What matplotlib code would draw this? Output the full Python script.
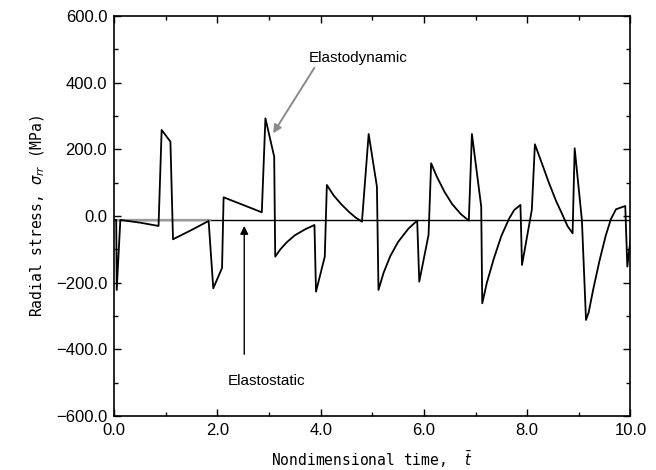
import matplotlib
matplotlib.use("Agg")
import matplotlib.pyplot as plt
from matplotlib.ticker import MultipleLocator, FuncFormatter

# elastodynamic radial stress (MPa) vs nondimensional time
t_dyn = [0.0, 0.04, 0.05, 0.12, 0.50, 0.86, 0.92, 1.09, 1.14, 1.50, 1.83,
         1.92, 2.09, 2.12, 2.50, 2.86, 2.93, 3.10, 3.12, 3.22, 3.35, 3.50,
         3.70, 3.88, 3.91, 4.08, 4.12, 4.25, 4.40, 4.55, 4.68, 4.80, 4.93,
         5.09, 5.12, 5.22, 5.35, 5.50, 5.70, 5.87, 5.91, 6.09, 6.14, 6.25,
         6.40, 6.55, 6.72, 6.87, 6.93, 7.11, 7.13, 7.22, 7.35, 7.50, 7.65,
         7.75, 7.87, 7.90, 8.09, 8.15, 8.28, 8.42, 8.56, 8.68, 8.78, 8.88,
         8.92, 9.06, 9.14, 9.19, 9.28, 9.40, 9.52, 9.62, 9.72, 9.90, 9.94,
         10.0]
s_dyn = [-12, -12, -222, -12, -20, -30, 258, 223, -70, -42, -15,
         -217, -156, 56, 33, 11, 293, 178, -122, -100, -78, -58,
         -40, -27, -227, -122, 93, 62, 35, 12, -5, -17, 246,
         88, -222, -170, -120, -78, -38, -14, -197, -57, 158, 118,
         72, 35, 5, -14, 246, 28, -262, -200, -130, -60, -8,
         18, 33, -147, 18, 215, 160, 100, 45, 5, -30, -52,
         203, -12, -312, -290, -220, -135, -60, -10, 20, 30, -152,
         -72]

# elastostatic solution (constant)
t_sta = [0.0, 10.0]
s_sta = [-12, -12]


def fmt(v, _pos):
    return f"{v:.1f}".replace("-", "\u2212")


fig = plt.figure(figsize=(6.56, 4.70), dpi=100)
ax = fig.add_axes([0.174, 0.115, 0.787, 0.851])

ax.plot(t_sta, s_sta, color="black", linewidth=1.0)
ax.plot([0.0, 1.85], [-12, -12], color="#9a9a9a", linewidth=1.6)
ax.plot(t_dyn, s_dyn, color="black", linewidth=1.3)

ax.set_xlim(0, 10)
ax.set_ylim(-600, 600)
ax.xaxis.set_major_locator(MultipleLocator(2))
ax.xaxis.set_minor_locator(MultipleLocator(1))
ax.yaxis.set_major_locator(MultipleLocator(200))
ax.yaxis.set_minor_locator(MultipleLocator(100))
ax.xaxis.set_major_formatter(FuncFormatter(fmt))
ax.yaxis.set_major_formatter(FuncFormatter(fmt))
ax.tick_params(which="both", direction="in", top=True, right=True,
               labelsize=12, width=1.0)
ax.tick_params(which="major", length=5, pad=5)
ax.tick_params(which="minor", length=3)
for lab in ax.get_xticklabels() + ax.get_yticklabels():
    lab.set_family("Liberation Sans")
for sp in ax.spines.values():
    sp.set_linewidth(1.2)

ax.set_xlabel(r"Nondimensional time,  $\bar{t}$", family="DejaVu Sans Mono",
              fontsize=10.5, labelpad=8)
ax.set_ylabel(r"Radial stress, $\sigma_{rr}$ (MPa)", family="DejaVu Sans Mono",
              fontsize=10.5, labelpad=6)

ax.annotate("Elastodynamic", xy=(3.08, 248), xytext=(3.76, 474),
            fontsize=11, family="Liberation Sans", va="center", ha="left",
            arrowprops=dict(arrowstyle="-|>", color="#8a8a8a", lw=1.4,
                            shrinkA=0, shrinkB=0, mutation_scale=12,
                            relpos=(0.08, 0.0)))
ax.annotate("", xy=(2.52, -30), xytext=(2.52, -415),
            arrowprops=dict(arrowstyle="-|>", color="black", lw=1.0,
                            shrinkA=0, shrinkB=0, mutation_scale=12))
ax.text(2.2, -495, "Elastostatic", fontsize=11, family="Liberation Sans",
        va="center", ha="left")

fig.savefig("out.png", dpi=100)
